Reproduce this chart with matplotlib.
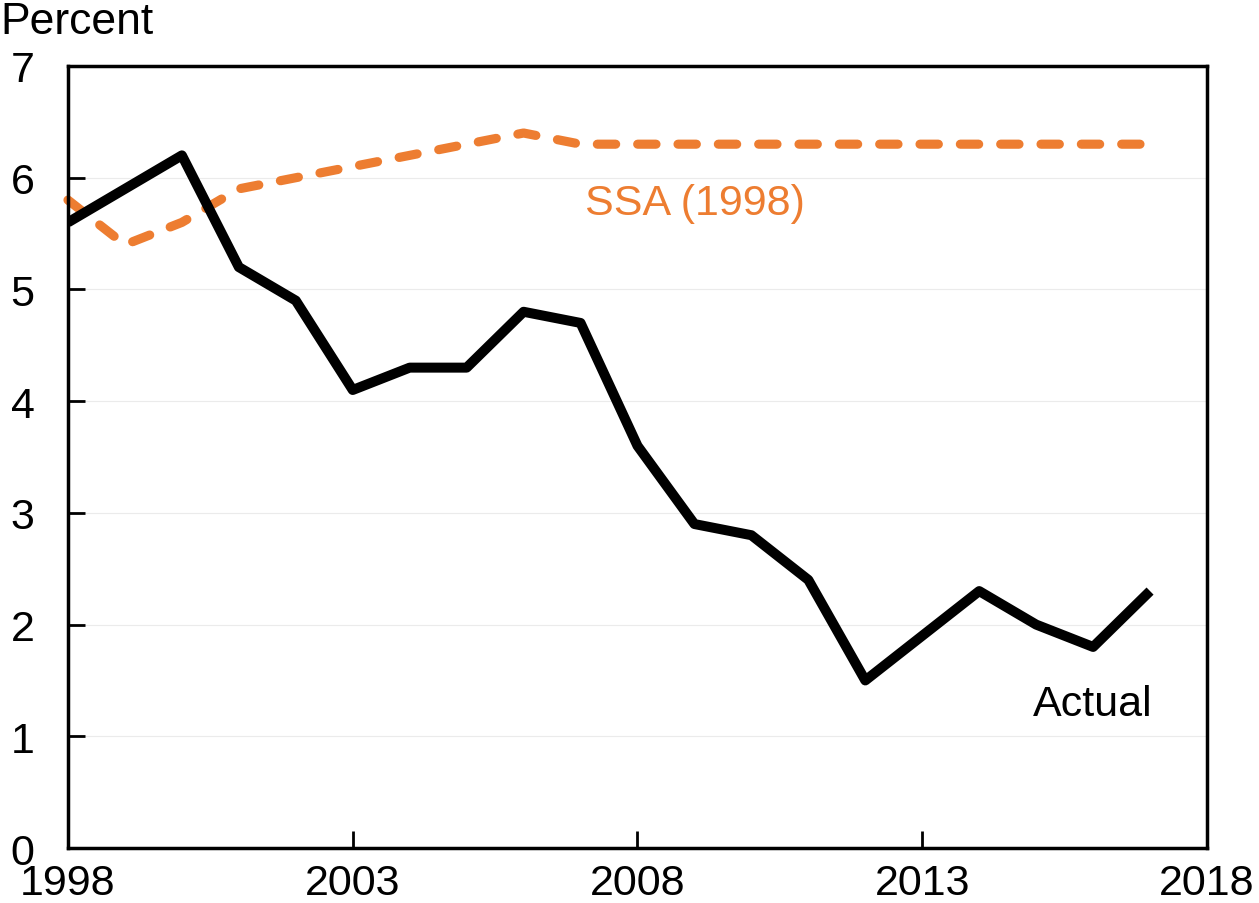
import matplotlib
matplotlib.use("Agg")
import matplotlib.pyplot as plt

plt.rcParams['font.family'] = ['Liberation Sans', 'DejaVu Sans']

years = list(range(1998, 2018))
actual = [5.6, 5.9, 6.2, 5.2, 4.9, 4.1, 4.3, 4.3, 4.8, 4.7,
          3.6, 2.9, 2.8, 2.4, 1.5, 1.9, 2.3, 2.0, 1.8, 2.3]
ssa = [5.8, 5.4, 5.6, 5.9, 6.0, 6.1, 6.2, 6.3, 6.4, 6.3,
       6.3, 6.3, 6.3, 6.3, 6.3, 6.3, 6.3, 6.3, 6.3, 6.3]
xticks = [1998, 2003, 2008, 2013, 2018]
yticks = [0, 1, 2, 3, 4, 5, 6, 7]

orange = "#ED7D31"

fig = plt.figure(figsize=(12.59, 9.04), dpi=100)
ax = fig.add_axes([0.054, 0.0608, 0.9047, 0.8651])

ax.grid(axis="y", color="#EBEBEB", linewidth=0.8)
ax.set_axisbelow(True)

ax.plot(years, ssa, color=orange, linewidth=6.6, linestyle=(0, (2.0, 2.4)),
        dash_capstyle="round", dash_joinstyle="round", clip_on=False)
ax.plot(years, actual, color="black", linewidth=7.2, solid_joinstyle="round",
        solid_capstyle="butt")

ax.set_xlim(1998, 2018)
ax.set_ylim(0, 7)
ax.set_xticks(xticks)
ax.set_yticks(yticks)
ax.tick_params(direction="in", length=12, width=2, labelsize=31)
ax.tick_params(axis="y", pad=24)
ax.tick_params(axis="x", pad=11)
for s in ax.spines.values():
    s.set_linewidth(2.5)

ax.text(2009.0, 5.77, "SSA (1998)", color=orange, fontsize=31,
        ha="center", va="center")
ax.text(2016.0, 1.29, "Actual", color="black", fontsize=31,
        ha="center", va="center")
fig.text(0.0, 0.975, "Percent", fontsize=32, ha="left", va="center")

fig.savefig("out.png", dpi=100)
